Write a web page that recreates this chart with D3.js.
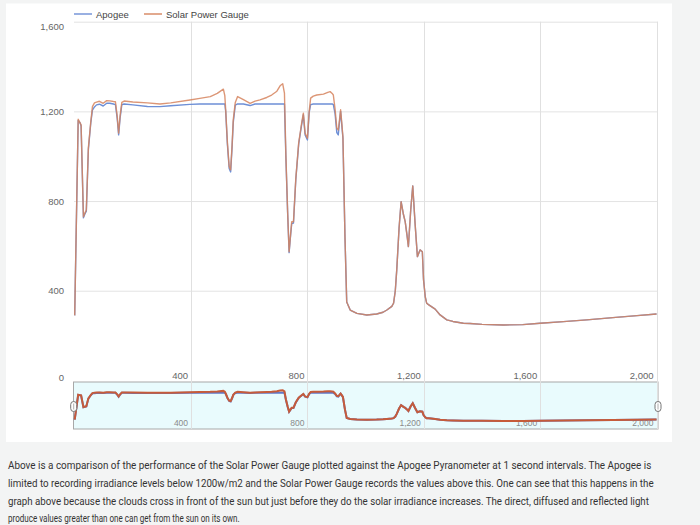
<!DOCTYPE html>
<html><head><meta charset="utf-8">
<script src="https://cdn.jsdelivr.net/npm/d3@7/dist/d3.min.js"></script>
<style>html,body{margin:0;padding:0;background:#f3f4f4;}svg{display:block;}</style>
</head><body>
<svg id="c" width="700" height="525"></svg>
<script>
const seconds = [0,12,18,22,30,35,40,47,55,61,68,75,85,98,110,121,133,140,146,151,156,162,170,200,250,293,330,396,430,466,490,511,516,519,525,531,536,541,545,552,560,580,603,620,637,660,677,695,706,715,721,726,732,737,742,746,752,760,770,780,786,792,800,806,811,820,832,855,870,878,885,889,895,901,906,910,914,918,922,929,935,947,970,1004,1038,1060,1073,1090,1096,1102,1107,1115,1122,1130,1136,1142,1147,1155,1162,1170,1178,1187,1195,1199,1205,1210,1216,1225,1239,1256,1279,1300,1336,1359,1400,1474,1540,1600,1680,1760,1850,1933,2000];
const solarPowerGauge = [290,1165,1150,1140,730,747,760,1037,1150,1221,1238,1241,1245,1236,1248,1247,1244,1243,1180,1103,1180,1240,1246,1242,1238,1233,1238,1251,1258,1266,1280,1299,1270,1207,1060,954,939,1050,1162,1240,1266,1252,1236,1246,1251,1262,1273,1290,1314,1323,1281,1000,750,574,650,708,708,900,1060,1147,1192,1103,1080,1200,1259,1268,1273,1277,1285,1288,1280,1273,1210,1125,1117,1160,1207,1150,1087,641,350,314,299,292,296,304,314,330,344,400,493,680,797,740,708,650,597,760,867,700,552,582,574,450,373,344,338,330,318,292,270,263,255,254,250,247,249,255,262,270,280,289,296];
const apogee = [290,1160,1150,1135,725,742,755,1030,1145,1206,1220,1229,1232,1224,1236,1236,1233,1230,1170,1095,1170,1230,1233,1229,1222,1221,1225,1231,1233,1233,1233,1233,1233,1200,1050,945,930,1040,1150,1228,1233,1233,1226,1233,1233,1233,1233,1233,1233,1233,1233,990,745,570,645,700,702,895,1055,1140,1185,1095,1072,1195,1230,1233,1233,1233,1233,1233,1233,1230,1190,1105,1095,1150,1200,1140,1080,641,350,314,299,292,296,304,314,330,344,400,493,680,797,740,708,650,597,760,867,700,552,582,574,450,373,344,338,330,318,292,270,263,255,254,250,247,249,255,262,270,280,289,296];
const seriesNames = ["Apogee","Solar Power Gauge"];
const yTicks = [0,400,800,1200,1600];
const xTicks = [400,800,1200,1600,2000];
const caption = [
 "Above is a comparison of the performance of the Solar Power Gauge plotted against the Apogee Pyranometer at 1 second intervals. The Apogee is",
 "limited to recording irradiance levels below 1200w/m2 and the Solar Power Gauge records the values above this. One can see that this happens in the",
 "graph above because the clouds cross in front of the sun but just before they do the solar irradiance increases. The direct, diffused and reflected light",
 "produce values greater than one can get from the sun on its own."
];

const svg = d3.select("#c");
const colors = ["#6d8fd6","#d6845e"];
const miniColors = ["#6078c8","#c65b3a"];
const labelFont = "'Liberation Sans', Arial, sans-serif";

svg.append("rect").attr("x",0).attr("y",0).attr("width",700).attr("height",525).attr("fill","#f3f4f4");
svg.append("rect").attr("x",6).attr("y",3.5).attr("width",666).attr("height",438.5).attr("fill","#ffffff");

const x = d3.scaleLinear().domain([0,2005]).range([74.7,658]);
const y = d3.scaleLinear().domain([0,1600]).range([380.4,21.7]);
const yMini = d3.scaleLinear().domain([0,1610]).range([428,382]);

const data = seconds.map((s,i)=>({s, a:apogee[i], g:solarPowerGauge[i]}));

svg.append("g").selectAll("line").data(yTicks.filter(v=>v>0)).join("line")
  .attr("x1",74).attr("x2",658).attr("y1",d=>y(d)+0.5).attr("y2",d=>y(d)+0.5)
  .attr("stroke","#e3e3e3").attr("stroke-width",1);

svg.append("rect").attr("x",73.5).attr("y",382).attr("width",584.5).attr("height",47)
  .attr("fill","#e9fbfd").attr("stroke","#a8a8a8").attr("stroke-width",1);

svg.append("g").selectAll("line").data(xTicks).join("line")
  .attr("x1",d=>Math.round(x(d))+0.5).attr("x2",d=>Math.round(x(d))+0.5)
  .attr("y1",21.7).attr("y2",429)
  .attr("stroke","#e0e0e0").attr("stroke-width",1);

svg.append("g").selectAll("text").data(yTicks).join("text")
  .attr("x",64).attr("y",d=> d===0 ? 377 : Math.max(y(d),26))
  .attr("text-anchor","end").attr("dominant-baseline","central")
  .attr("font-family",labelFont).attr("font-size",9.5).attr("fill","#666")
  .text(d=>d3.format(",")(d));

svg.append("g").selectAll("text").data(xTicks).join("text")
  .attr("x",d=>x(d)-3).attr("y",375)
  .attr("text-anchor","end").attr("dominant-baseline","central")
  .attr("font-family",labelFont).attr("font-size",9.5).attr("fill","#666")
  .text(d=>d3.format(",")(d));

svg.append("g").selectAll("text").data(xTicks).join("text")
  .attr("x",d=>x(d)-3).attr("y",423)
  .attr("text-anchor","end").attr("dominant-baseline","central")
  .attr("font-family",labelFont).attr("font-size",8.5).attr("fill","#8a8a8a")
  .text(d=>d3.format(",")(d));

const lineA = d3.line().x(d=>x(d.s)).y(d=>y(d.a));
const lineG = d3.line().x(d=>x(d.s)).y(d=>y(d.g));
svg.append("path").datum(data).attr("d",lineA).attr("fill","none")
  .attr("stroke",colors[0]).attr("stroke-width",1.4).attr("stroke-linejoin","round");
svg.append("path").datum(data).attr("d",lineG).attr("fill","none")
  .attr("stroke",colors[1]).attr("stroke-width",1.4).attr("stroke-opacity",0.85).attr("stroke-linejoin","round");

const mA = d3.line().x(d=>x(d.s)).y(d=>yMini(d.a));
const mG = d3.line().x(d=>x(d.s)).y(d=>yMini(d.g));
svg.append("path").datum(data).attr("d",mA).attr("fill","none")
  .attr("stroke",miniColors[0]).attr("stroke-width",2);
svg.append("path").datum(data).attr("d",mG).attr("fill","none")
  .attr("stroke",miniColors[1]).attr("stroke-width",2);

[x(0)-1, x(2005)].forEach(hx=>{
  svg.append("rect").attr("x",hx-3).attr("y",401.5).attr("width",6).attr("height",10).attr("rx",3)
    .attr("fill","#fff").attr("stroke","#777").attr("stroke-width",1);
  svg.append("line").attr("x1",hx).attr("x2",hx).attr("y1",403.5).attr("y2",409.5)
    .attr("stroke","#999").attr("stroke-width",0.8);
});

const leg = svg.append("g");
const legX = [74,144];
seriesNames.forEach((n,i)=>{
  leg.append("line").attr("x1",legX[i]).attr("x2",legX[i]+18).attr("y1",14).attr("y2",14)
    .attr("stroke",colors[i]).attr("stroke-width",1.4);
  leg.append("text").attr("x",legX[i]+22).attr("y",14).attr("dominant-baseline","central")
    .attr("font-family",labelFont).attr("font-size",9.5).attr("fill","#444").text(n);
});

const capW = [644,647,642,232];
const capY = [469,487,505,521.5];
caption.forEach((t,i)=>{
  const g = svg.append("g");
  const tx = g.append("text").attr("x",0).attr("y",0)
    .attr("font-family","Roboto, 'Open Sans', sans-serif").attr("font-size",10.5).attr("fill","#333")
    .text(t);
  const nat = tx.node().getComputedTextLength() || capW[i];
  g.attr("transform",`translate(8,${capY[i]}) scale(${capW[i]/nat},1)`);
});
</script>
</body></html>
